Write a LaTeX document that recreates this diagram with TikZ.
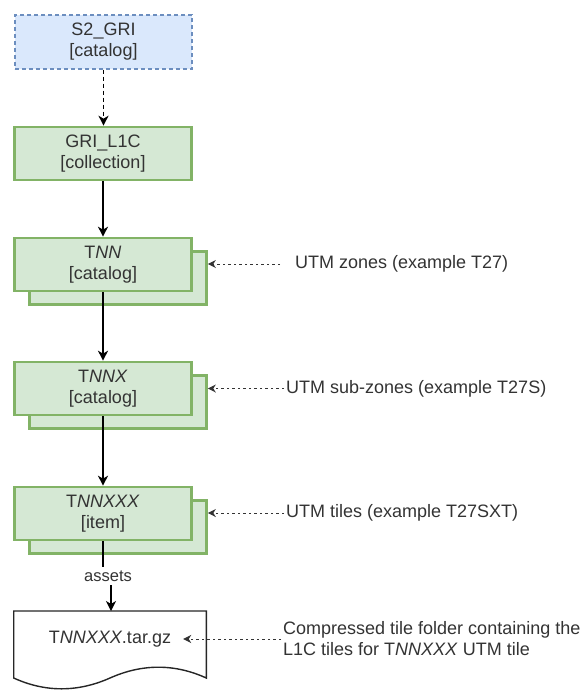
\documentclass[tikz,border=0pt]{standalone}
\usepackage{fontspec}
\setmainfont{Liberation Sans}
\usetikzlibrary{arrows.meta}
\definecolor{bluefill}{HTML}{DAE8FC}
\definecolor{blueline}{HTML}{6C8EBF}
\definecolor{greenfill}{HTML}{D5E8D4}
\definecolor{greenline}{HTML}{82B366}
\definecolor{ink}{HTML}{333333}

\begin{document}
\begin{tikzpicture}[x=1pt,y=-1pt,
  font=\fontsize{18}{21}\selectfont,
  box/.style={rectangle, minimum width=177pt, minimum height=53pt,
    align=center, text=ink, inner sep=0pt},
  greenbox/.style={box, fill=greenfill, draw=greenline, line width=2.6pt},
  bluebox/.style={box, fill=bluefill, draw=blueline, line width=1.2pt,
    dash pattern=on 4pt off 3pt},
  flow/.style={line width=1.4pt, draw=black,
    -{Stealth[length=10pt,width=10pt,inset=3pt]}},
  note/.style={line width=1pt, draw=ink, dash pattern=on 2.5pt off 3pt,
    -{Stealth[length=8pt,width=8pt,inset=2.5pt]}},
  lbl/.style={anchor=west, text=ink, inner sep=2pt, align=left},
]
\useasboundingbox (0,0) rectangle (579,690);

% catalogue chain
\node[bluebox, minimum height=54pt] (s2) at (103.5,42) {S2\_GRI\\{}[catalog]};
\node[greenbox] (l1c) at (103,153.5) {GRI\_L1C\\{}[collection]};

\node[greenbox] (tnnback) at (118,278) {};
\node[greenbox] (tnn) at (103,264.5) {T\textit{NN}\\{}[catalog]};

\node[greenbox] (tnnxback) at (118,402) {};
\node[greenbox] (tnnx) at (103,388.5) {T\textit{NNX}\\{}[catalog]};

\node[greenbox] (tnnxxxback) at (118,527) {};
\node[greenbox] (tnnxxx) at (103,513.5) {T\textit{NNXXX}\\{}[item]};

% archive document with wavy bottom edge
\draw[line width=1.4pt, draw=black!85, fill=white]
  (13.7,611) -- (206.3,611) -- (206.3,678)
  .. controls (174.7,663.6) and (142.3,663.6) .. (110,678)
  .. controls (77.7,692.4) and (45.3,692.4) .. (13.7,678) -- cycle;
\coordinate (doctop) at (111,611);
\node[text=ink, inner xsep=12pt, inner ysep=2pt] (tarname) at (110,639)
  {T\textit{NNXXX}.tar.gz};

% links between levels
\draw[flow, dash pattern=on 4pt off 3pt] (s2.south) -- (s2.south |- l1c.north);
\draw[flow] (l1c.south) -- (tnn.north);
\draw[flow] (tnn.south) -- (tnnx.north);
\draw[flow] (tnnx.south) -- (tnnxxx.north);

\node[text=ink, font=\fontsize{16.5}{19}\selectfont, inner sep=0pt,
  minimum height=18pt] (assets) at (108,576) {assets};
\draw[line width=1.4pt] (tnnxxx.south) -- (tnnxxx.south |- assets.north);
\draw[flow] (doctop |- assets.south) -- (doctop);

% explanatory notes
\node[lbl, inner xsep=15pt] (zones) at (280,264) {UTM zones (example T27)};
\node[lbl] (subzones) at (284,388.5) {UTM sub-zones (example T27S)};
\node[lbl] (tiles) at (284,513) {UTM tiles (example T27SXT)};
\node[lbl] (archive) at (281,639)
  {Compressed tile folder containing the\\L1C tiles for T\textit{NNXXX} UTM tile};

\draw[note] (zones.west) -- (zones.west -| tnnback.east);
\draw[note] (subzones.west) -- (subzones.west -| tnnxback.east);
\draw[note] (tiles.west) -- (tiles.west -| tnnxxxback.east);
\draw[note] (archive.west) -- (tarname.east);
\end{tikzpicture}
\end{document}
